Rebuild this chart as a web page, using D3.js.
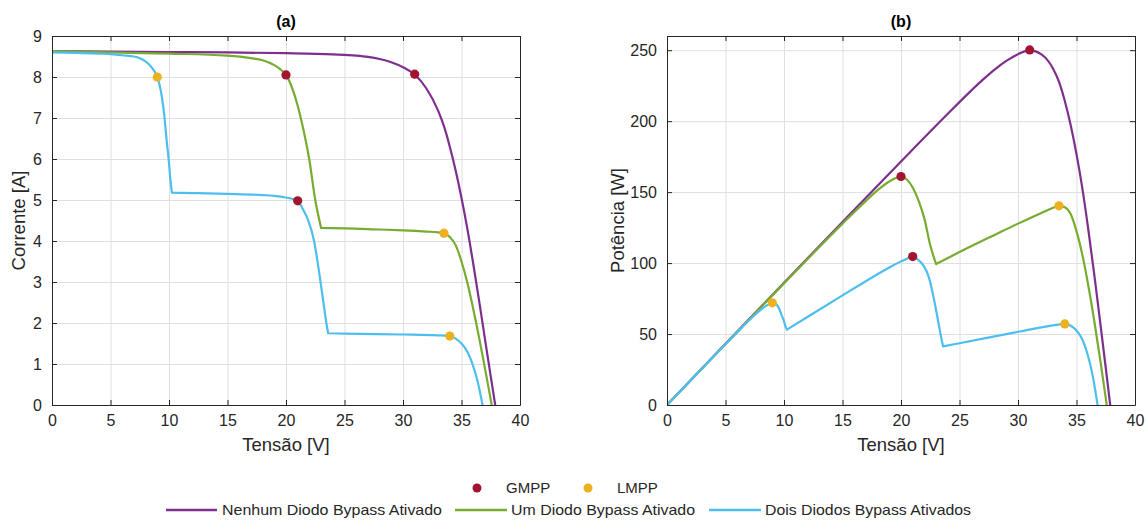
<!DOCTYPE html>
<html><head><meta charset="utf-8">
<script src="https://cdn.jsdelivr.net/npm/d3@7"></script>
<style>
body{margin:0;background:#fff}
svg{display:block}
text{font-family:"Liberation Sans",Arial,Helvetica,sans-serif;fill:#262626}
</style>
</head><body>
<svg id="chart" width="1147" height="520"></svg>
<script>
// ---------------- DATA ----------------
const xTicks = [0, 5, 10, 15, 20, 25, 30, 35, 40];
const currentTicks = [0, 1, 2, 3, 4, 5, 6, 7, 8, 9];
const powerTicks = [0, 50, 100, 150, 200, 250];
const seriesNames = ["Nenhum Diodo Bypass Ativado", "Um Diodo Bypass Ativado", "Dois Diodos Bypass Ativados"];
const markerNames = ["GMPP", "LMPP"];
const panelTitles = ["(a)", "(b)"];

// I-V curve: no bypass diode active
const vNone = [0, 5, 10, 15, 20, 24, 26, 27, 28, 29, 30, 31, 32, 33, 33.5, 34, 34.5, 35, 35.5, 36, 36.5, 37, 37.5, 37.88];
const iNone = [8.63, 8.62, 8.61, 8.60, 8.58, 8.55, 8.52, 8.49, 8.44, 8.36, 8.24, 8.06, 7.72, 7.18, 6.8, 6.3, 5.72, 5.05, 4.3, 3.45, 2.55, 1.62, 0.7, 0];
const kneesNone = [];

// I-V curve: one bypass diode active
const vOne = [0, 5, 10, 15, 17, 18, 19, 19.5, 20, 20.5, 21, 21.5, 22, 22.5, 23, 25, 28, 30, 32, 33, 33.5, 34, 34.5, 35, 35.5, 36, 36.5, 37, 37.5, 37.58];
const iOne = [8.63, 8.60, 8.57, 8.52, 8.46, 8.41, 8.29, 8.19, 8.05, 7.75, 7.3, 6.7, 5.97, 5.0, 4.32, 4.31, 4.28, 4.26, 4.23, 4.21, 4.19, 4.1, 3.9, 3.5, 2.98, 2.35, 1.65, 0.9, 0.13, 0];
const kneesOne = [23];

// I-V curve: two bypass diodes active
const vTwo = [0, 2, 4, 5, 6, 7, 7.5, 8, 8.5, 9, 9.2, 9.4, 9.6, 9.8, 10, 10.1, 10.25, 12, 15, 18, 19, 20, 20.5, 21, 21.4, 21.9, 22.4, 22.8, 23.2, 23.45, 23.6, 25, 30, 33, 34, 34.5, 35, 35.5, 36, 36.4, 36.8];
const iTwo = [8.6, 8.59, 8.57, 8.56, 8.53, 8.5, 8.46, 8.38, 8.24, 8.0, 7.8, 7.5, 7.05, 6.45, 5.9, 5.55, 5.18, 5.17, 5.15, 5.12, 5.1, 5.06, 5.03, 4.98, 4.8, 4.5, 4.0, 3.3, 2.5, 2.0, 1.75, 1.74, 1.72, 1.7, 1.68, 1.62, 1.5, 1.3, 0.95, 0.55, 0];
const kneesTwo = [10.25, 23.6];

// Maximum power points (voltage, current) per series
const gmppV = [31, 20, 21];
const gmppI = [8.07, 8.05, 4.98];
const lmppV = [33.5, 9, 34];
const lmppI = [4.19, 8.0, 1.68];

// ---------------- STYLE ----------------
const colors = ["#7E2F8E", "#77AC30", "#4DBEEE"];
const gmppColor = "#A2142F";
const lmppColor = "#EDB120";
const axisColor = "#262626";
const gridColor = "#dfdfdf";

const svg = d3.select("#chart");
const H = {top: 36, bottom: 405};
const panels = [
  {x0: 52, x1: 520, yMax: 9, yTicks: currentTicks, yLabel: "Corrente [A]", power: false, title: panelTitles[0], ylabX: 19},
  {x0: 667, x1: 1135, yMax: 260, yTicks: powerTicks, yLabel: "Potência [W]", power: true, title: panelTitles[1], ylabX: 618}
];

const curves = [[vNone, iNone, kneesNone], [vOne, iOne, kneesOne], [vTwo, iTwo, kneesTwo]];

panels.forEach((p, pi) => {
  const x = d3.scaleLinear().domain([0, 40]).range([p.x0, p.x1]);
  const y = d3.scaleLinear().domain([0, p.yMax]).range([H.bottom, H.top]);
  const g = svg.append("g");
  const clipId = "clip" + pi;
  svg.append("defs").append("clipPath").attr("id", clipId)
    .append("rect").attr("x", p.x0).attr("y", H.top).attr("width", p.x1 - p.x0).attr("height", H.bottom - H.top);

  // grid
  g.append("g").call(d3.axisBottom(x).tickValues(xTicks).tickSize(-(H.bottom - H.top)).tickFormat(""))
    .attr("transform", `translate(0,${H.bottom})`)
    .call(s => { s.select(".domain").remove(); s.selectAll("line").attr("stroke", gridColor); });
  g.append("g").call(d3.axisLeft(y).tickValues(p.yTicks).tickSize(-(p.x1 - p.x0)).tickFormat(""))
    .attr("transform", `translate(${p.x0},0)`)
    .call(s => { s.select(".domain").remove(); s.selectAll("line").attr("stroke", gridColor); });

  // lines (split at bypass-diode knees so the corners stay sharp)
  const lg = g.append("g").attr("clip-path", `url(#${clipId})`);
  const lineGen = d3.line().x(d => x(d[0])).y(d => y(d[1])).curve(d3.curveMonotoneX);
  curves.forEach((c, ci) => {
    const pts = c[0].map((v, k) => [v, p.power ? v * c[1][k] : c[1][k]]);
    const segs = [];
    let cur = [];
    pts.forEach(pt => {
      cur.push(pt);
      if (c[2].includes(pt[0])) { segs.push(cur); cur = [pt]; }
    });
    segs.push(cur);
    lg.append("path")
      .attr("fill", "none").attr("stroke", colors[ci]).attr("stroke-width", 2.2)
      .attr("stroke-linejoin", "round").attr("stroke-linecap", "round")
      .attr("d", segs.map(s => lineGen(s)).join(""));
  });

  // markers
  const gm = gmppV.map((v, k) => [v, p.power ? v * gmppI[k] : gmppI[k]]);
  const lm = lmppV.map((v, k) => [v, p.power ? v * lmppI[k] : lmppI[k]]);
  g.selectAll(null).data(gm).join("circle").attr("cx", d => x(d[0])).attr("cy", d => y(d[1])).attr("r", 4.6).attr("fill", gmppColor);
  g.selectAll(null).data(lm).join("circle").attr("cx", d => x(d[0])).attr("cy", d => y(d[1])).attr("r", 4.6).attr("fill", lmppColor);

  // axes with inward ticks on all four sides
  const ax = g.append("g").attr("class", "axes");
  const styleAxis = s => {
    s.select(".domain").attr("stroke", axisColor);
    s.selectAll(".tick line").attr("stroke", axisColor);
    s.selectAll(".tick text").attr("fill", axisColor).style("font-size", "16px");
  };
  ax.append("g").attr("transform", `translate(0,${H.bottom})`)
    .call(d3.axisBottom(x).tickValues(xTicks).tickSizeInner(-5).tickSizeOuter(0).tickPadding(10))
    .call(styleAxis);
  ax.append("g").attr("transform", `translate(0,${H.top})`)
    .call(d3.axisTop(x).tickValues(xTicks).tickSizeInner(-5).tickSizeOuter(0).tickFormat(""))
    .call(styleAxis);
  ax.append("g").attr("transform", `translate(${p.x0},0)`)
    .call(d3.axisLeft(y).tickValues(p.yTicks).tickSizeInner(-5).tickSizeOuter(0).tickPadding(10))
    .call(styleAxis);
  ax.append("g").attr("transform", `translate(${p.x1},0)`)
    .call(d3.axisRight(y).tickValues(p.yTicks).tickSizeInner(-5).tickSizeOuter(0).tickFormat(""))
    .call(styleAxis);
  ax.selectAll("text").attr("font-family", '"Liberation Sans",Arial,sans-serif');

  // labels
  svg.append("text").attr("x", (p.x0 + p.x1) / 2).attr("y", 451).attr("text-anchor", "middle")
    .style("font-size", "18.5px").text("Tensão [V]");
  svg.append("text").attr("transform", `translate(${p.ylabX},${(H.top + H.bottom) / 2}) rotate(-90)`)
    .attr("text-anchor", "middle").attr("dy", "0.35em").style("font-size", "18.5px").text(p.yLabel);
  svg.append("text").attr("x", (p.x0 + p.x1) / 2).attr("y", 27).attr("text-anchor", "middle")
    .style("font-size", "16px").style("font-weight", "bold").style("fill", "#000").text(p.title);
});

// ---------------- LEGEND ----------------
const leg = svg.append("g").style("font-size", "15px");
const mItems = [
  {name: markerNames[0], color: gmppColor, cx: 477, tx: 506},
  {name: markerNames[1], color: lmppColor, cx: 588, tx: 617}
];
mItems.forEach(m => {
  leg.append("circle").attr("cx", m.cx).attr("cy", 488).attr("r", 4.5).attr("fill", m.color);
  leg.append("text").attr("x", m.tx).attr("y", 488).attr("dy", "0.35em").text(m.name);
});
const lItems = [
  {x1: 166, x2: 217, tx: 222, w: 220},
  {x1: 455, x2: 507, tx: 511, w: 184},
  {x1: 709, x2: 761, tx: 765, w: 206}
];
lItems.forEach((l, i) => {
  leg.append("line").attr("x1", l.x1).attr("x2", l.x2).attr("y1", 510).attr("y2", 510)
    .attr("stroke", colors[i]).attr("stroke-width", 2.5);
  leg.append("text").attr("x", l.tx).attr("y", 510).attr("dy", "0.35em")
    .attr("textLength", l.w).attr("lengthAdjust", "spacingAndGlyphs").text(seriesNames[i]);
});
</script>
</body></html>
